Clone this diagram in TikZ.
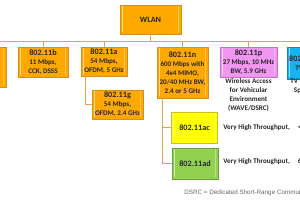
\documentclass[tikz,border=0pt]{standalone}
\usepackage{fontspec}
\setmainfont{Carlito}
\newfontfamily\notefont{Liberation Sans}
\definecolor{boxorange}{RGB}{255,168,0}
\definecolor{edgeorange}{RGB}{220,140,30}
\definecolor{lineorange}{RGB}{232,162,70}
\definecolor{boxpink}{RGB}{240,150,240}
\definecolor{edgepink}{RGB}{200,110,200}
\definecolor{boxblue}{RGB}{20,180,240}
\definecolor{edgeblue}{RGB}{20,130,190}
\definecolor{boxyellow}{RGB}{255,255,0}
\definecolor{edgeyellow}{RGB}{200,190,40}
\definecolor{boxgreen}{RGB}{146,208,80}
\definecolor{edgegreen}{RGB}{110,160,60}
\newcommand\hd[1]{{\fontsize{8.2}{10}\selectfont #1}}
\begin{document}
\begin{tikzpicture}[x=1pt,y=-1pt,line width=0.8pt,
  every node/.style={font=\bfseries\fontsize{7.1}{9}\selectfont,inner sep=1pt,align=center,text=black!85},
  stdbox/.style={draw=#1,line width=0.6pt,
    path picture={\draw[white,opacity=0.55,line width=1.2pt]
      ([xshift=2.2pt,yshift=-1.5pt]path picture bounding box.north west) -- ([xshift=2.2pt,yshift=1.5pt]path picture bounding box.south west);
      \draw[white,opacity=0.35,line width=1.2pt]
      ([xshift=-2.2pt,yshift=-1.5pt]path picture bounding box.north east) -- ([xshift=-2.2pt,yshift=1.5pt]path picture bounding box.south east);}},
  orangebox/.style={stdbox=edgeorange,fill=boxorange},
  conn/.style={draw=lineorange}]
\clip (0,0) rectangle (300,200);
\coordinate (BL) at (-60,41);
\coordinate (BR) at (360,41);
\coordinate (AG) at (85.5,104.5);
\coordinate (NA) at (162,163.5);
% boxes
\node[orangebox,minimum width=61pt,minimum height=29pt] (W) at (150.5,19.5) {\hd{WLAN}};
\node[orangebox,minimum width=46pt,minimum height=40pt] (L) at (-17,67) {\hd{802.11}\\2 Mbps,\\IR,\\FHSS, DSSS};
\node[orangebox,minimum width=50pt,minimum height=30pt] (B) at (43,62) {\hd{802.11b}\\11 Mbps,\\CCK, DSSS};
\node[orangebox,minimum width=46pt,minimum height=29pt] (A) at (104,61.5) {\hd{802.11a}\\54 Mbps,\\OFDM, 5 GHz};
\node[orangebox,minimum width=51pt,minimum height=29pt] (G) at (117.5,104.5) {\hd{802.11g}\\54 Mbps,\\OFDM, 2.4 GHz};
\node[orangebox,minimum width=51pt,minimum height=51pt] (N) at (182.5,72.5) {\hd{802.11n}\\600 Mbps with\\4x4 MIMO,\\20/40 MHz BW,\\2.4 or 5 GHz};
\node[stdbox=edgepink,fill=boxpink,minimum width=57pt,minimum height=30pt] (P) at (248.5,62) {\hd{802.11p}\\27 Mbps, 10 MHz\\BW, 5.9 GHz};
\node[stdbox=edgeblue,fill=boxblue,minimum width=34pt,minimum height=32pt] (F) at (304,63) {\hd{802.11af}\\TVWS};
\node[stdbox=edgeyellow,fill=boxyellow,minimum width=46pt,minimum height=31pt] (AC) at (194.5,127.5) {\hd{802.11ac}};
\node[stdbox=edgegreen,fill=boxgreen,minimum width=46pt,minimum height=31pt] (AD) at (195,163.5) {\hd{802.11ad}};
% texts
\node (WV) at (248.5,95.5) {Wireless Access\\for Vehicular\\Environment\\(WAVE/DSRC)};
\node (TV) at (304,86) {TV White\\Spaces};
\node[anchor=west] (T1) at (222,127.5) {Very High Throughput,\hspace{8pt}<6 GHz};
\node[anchor=west] (T2) at (222,162) {Very High Throughput,\hspace{8pt}60 GHz};
\node[anchor=west,font=\notefont\fontsize{6.3}{7.5}\selectfont,text=black!60] (D) at (183,193) {DSRC = Dedicated Short-Range Communications};
% connectors
\draw[conn] (BL) -- (BR);
\draw[conn] (W.south) -- (W.south |- BL);
\foreach \n in {L,B,A,N,P,F}
  \draw[conn] (\n.north) -- (\n.north |- BL);
\draw[conn] (A.south -| AG) -- (AG) -- (G.west);
\draw[conn] (N.south -| NA) -- (NA) -- (AD.west);
\draw[conn] (AC.west -| NA) -- (AC.west);
\end{tikzpicture}
\end{document}
